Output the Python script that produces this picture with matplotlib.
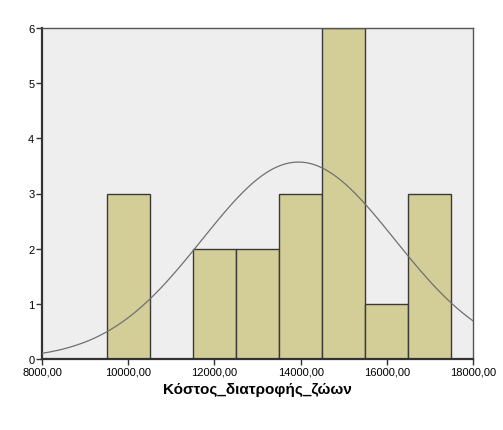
import numpy as np
import matplotlib
matplotlib.use("Agg")
import matplotlib.pyplot as plt

bin_edges = [9500, 10500, 11500, 12500, 13500, 14500, 15500, 16500, 17500]
counts = [3, 0, 2, 2, 3, 6, 1, 3]
mean_val = 13950
sd_val = 2235
n_total = 20
bin_width = 1000
x_ticks = [8000, 10000, 12000, 14000, 16000, 18000]
x_tick_labels = ["8000,00", "10000,00", "12000,00", "14000,00", "16000,00", "18000,00"]
y_ticks = [0, 1, 2, 3, 4, 5, 6]
x_label = "Κόστος_διατροφής_ζώων"

fig = plt.figure(figsize=(5.03, 4.31), dpi=100)
ax = fig.add_axes([42/503, 1-360/431, (473-42)/503, (360-29)/431])
ax.set_facecolor("#EEEEEE")

lefts = bin_edges[:-1]
widths = np.diff(bin_edges)
ax.bar(lefts, counts, width=widths, align="edge", color="#D3CE97",
       edgecolor="#3a3a3a", linewidth=1.0, zorder=2)

xs = np.linspace(8000, 18000, 400)
ys = n_total * bin_width / (sd_val * np.sqrt(2 * np.pi)) * np.exp(-0.5 * ((xs - mean_val) / sd_val) ** 2)
ax.plot(xs, ys, color="#707070", linewidth=0.9, zorder=3)

ax.set_xlim(8000, 18000)
ax.set_ylim(0, 6)
ax.set_xticks(x_ticks)
ax.set_xticklabels(x_tick_labels, fontsize=8, family="Liberation Sans")
ax.set_yticks(y_ticks)
ax.set_yticklabels([str(v) for v in y_ticks], fontsize=8, family="Liberation Sans")
ax.tick_params(axis="both", length=4, width=1, color="#333333", pad=1.5)

for side in ["left", "bottom"]:
    ax.spines[side].set_linewidth(1.6)
    ax.spines[side].set_color("#333333")
for side in ["top", "right"]:
    ax.spines[side].set_linewidth(1.0)
    ax.spines[side].set_color("#555555")

ax.set_xlabel(x_label, fontsize=11, fontweight="bold", family="Liberation Sans", labelpad=4)

fig.savefig("out.png", dpi=100)
